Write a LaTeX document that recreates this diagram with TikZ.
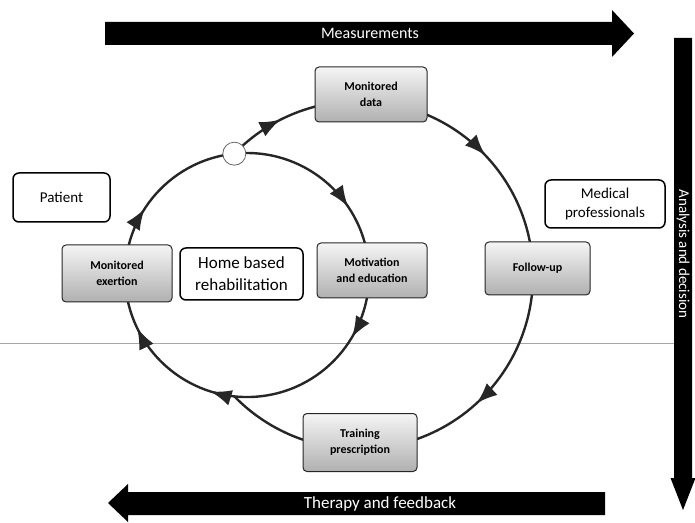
\documentclass[tikz,border=0pt]{standalone}
\usepackage{fontspec}
\setmainfont{Carlito}
\usetikzlibrary{arrows.meta,decorations.markings}

\begin{document}
\begin{tikzpicture}[
    x=1pt, y=1pt,
    stage/.style={draw=black!85, line width=1pt, rounded corners=4pt, top color=gray!8, bottom color=gray!62,
        align=center, inner sep=2pt, font=\fontsize{12}{16}\selectfont\bfseries, minimum width=110pt, minimum height=55pt},
    actor/.style={draw, line width=1.5pt, rounded corners=6pt, fill=white, align=center, inner sep=4pt,
        font=\fontsize{15}{19}\selectfont},
    bandtext/.style={text=white, inner sep=0pt},
    cycle/.style={line width=2.4pt, draw=black!85},
    head at/.style={postaction={decorate, decoration={markings,
        mark=at position #1 with {\arrow{Latex[length=21pt,width=16pt]}}}}}
]
\useasboundingbox (0,0) rectangle (695,522);

\coordinate (cs) at (247,247);
\coordinate (cb) at (359,247);
\coordinate (jtop) at (234.3,368.3);
\coordinate (jbot) at (234.3,125.7);

% separator line
\draw[gray!70, line width=1pt] (0,178) -- (674,178);

% inner loop (home based rehabilitation)
\draw[cycle, head at=0.172, head at=0.352, head at=0.565, head at=0.695, head at=0.858]
    (jtop) arc[start angle=96, end angle=-264, radius=122];
% outer loop (medical follow-up)
\draw[cycle, head at=0.07, head at=0.34, head at=0.675]
    (jtop) arc[start angle=135.8, end angle=-135.8, radius=174];

\node[circle, draw=black!60, fill=white, line width=0.8pt, minimum size=23pt, inner sep=0pt] (hub) at (jtop) {};

% stages on the loops
\node[stage, minimum width=112pt] (mdata) at (371,427.5) {Monitored\\data};
\node[stage, minimum width=105pt, minimum height=53pt] (followup) at (537.5,253.5) {Follow-up};
\node[stage, minimum width=114pt, minimum height=58pt] (training) at (360,79.5) {Training\\prescription};
\node[stage] (motiv) at (372,251.5) {Motivation\\and education};
\node[stage, minimum height=57pt] (exertion) at (117,248.5) {Monitored\\exertion};

% actors
\node[actor, minimum width=123pt, minimum height=52pt, font=\fontsize{17}{22}\selectfont] (home) at (241.5,248) {Home based\\rehabilitation};
\node[actor, minimum width=97pt, minimum height=49pt] (patient) at (61.5,324.5) {Patient};
\node[actor, minimum width=120pt, minimum height=48pt] (medical) at (605,318) {Medical\\professionals};

% bands
\fill (105,477) -- (612,477) -- (612,465) -- (634,488.5) -- (612,512) -- (612,500) -- (105,500) -- cycle;
\node[bandtext, font=\fontsize{16}{16}\selectfont] (meas) at (370,488.5) {Measurements};

\fill (674,484) -- (692,484) -- (692,44) -- (695.5,44) -- (683,12) -- (670.5,44) -- (674,44) -- cycle;
\node[bandtext, rotate=-90, font=\fontsize{15}{15}\selectfont] (analysis) at (683,268) {Analysis and decision};

\fill (605,7) -- (128,7) -- (128,0) -- (108,19) -- (128,38) -- (128,30) -- (605,30) -- cycle;
\node[bandtext, font=\fontsize{17}{17}\selectfont] (therapy) at (380,18.5) {Therapy and feedback};
\end{tikzpicture}
\end{document}
